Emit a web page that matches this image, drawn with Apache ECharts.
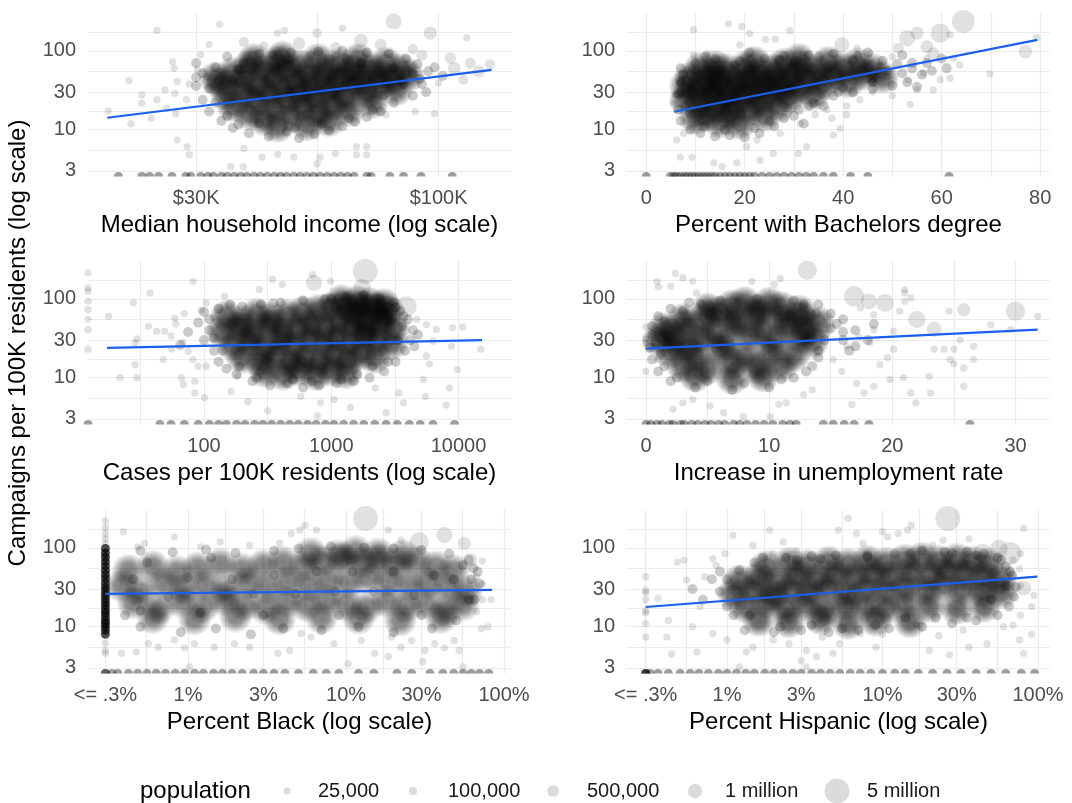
<!DOCTYPE html>
<html>
<head>
<meta charset="utf-8">
<script src="https://cdn.jsdelivr.net/npm/echarts@6/dist/echarts.min.js"></script>
<style>
  html, body { margin: 0; background: #fff; }
  #main { width: 1072px; height: 803px; }
</style>
</head>
<body>
<div id="main"></div>
<script>
// ---- y axis (campaigns per 100K, log) ----
var yTicks = [3, 10, 30, 100];
var yLabels = ['3', '10', '30', '100'];
var yBreaks = [1, 3, 10, 30, 100, 300];

// ---- panel 1: median household income ($K) ----
var incomeTicks = [30, 100];
var incomeLabels = ['$30K', '$100K'];
var incomeBreaks = [10, 30, 100, 300];
var incCore = [[34,38],[35,28],[36,52],[36,20],[38,44],[38,31],[39,64],[39,16],[40,24],[41,36],[42,56],[42,13.5],[43,28],[44,46],[44,19],[45,72],[46,34],[47,24],[47,58],[48,15],[49,40],[50,29],[50,66],[51,20],[52,50],[53,35],[54,25],[55,78],[55,16],[56,44],[57,58],[58,30],[59,21],[60,38],[61,68],[62,48],[63,26],[64,17.5],[65,56],[66,36],[67,78],[68,44],[70,30],[71,60],[72,22],[74,50],[75,38],[77,70],[79,44],[81,32],[83,58],[86,48],[46,84],[40,78],[33,45],[58,13],[52,11.5],[45,11]];
var incMid = [[30,70],[31,52],[30,36],[31,24],[32,17],[34,13],[36,10.5],[39,9],[43,8.2],[47,9.5],[50,7.8],[54,8.8],[58,9.8],[62,11],[66,12.5],[70,14.5],[75,17],[80,22],[88,27],[92,38],[95,55],[90,68],[85,80],[78,92],[70,95],[62,100],[55,98],[48,95],[41,92],[35,85],[33,62],[37,11.7],[63,80],[98,62],[102,48],[32,33],[33,22],[35,15],[37,58],[38,70],[41,12],[44,88],[49,10.5],[53,86],[56,12],[60,84],[64,14],[68,70],[72,18],[76,27],[80,60],[84,38],[88,52],[91,44],[94,30],[36,42],[30,46]];
var incPts = [[19.4,17.3],[21.5,42],[21.7,11.9],[22.9,27.6],[22.9,21.7],[24.7,181],[24.7,24],[25.7,32],[25.9,18.8],[26.7,73],[26.9,60],[27.1,16],[27.3,41],[27.3,7.4],[28.6,24],[28.7,6.1],[29,4.8],[30.2,57],[30.7,89],[31.7,47],[33.7,218],[35.6,3.4],[37.9,3.4],[38,5.8],[41.6,4.5],[44.9,168],[45,4.9],[46.5,181],[48.7,4.5],[54.7,168,200],[54.7,3.7],[55.5,4.5],[59.9,5],[62,194],[66.5,6.1],[66.5,4.8],[70,6.1],[70,4.8],[77,15.5],[80,236,1500],[89,16.9],[96,168,800],[98,16],[100,39],[106,81,500],[113,43,250],[115,147],[117,70,400],[129,68,300],[24,14],[27,29],[29,38],[32,120],[38,130,300],[42,115,200],[50,125,600],[60,110,400],[68,135,900],[75,120,500],[88,105,300],[92,88,400],[108,60,700],[122,55,600]];
var incZero = [20.4,22.9,23.8,24.9,26.6,28.5,29.2,30.7,31.8,32.7,34,35,36.2,37.4,38.6,40,41.3,42.7,44.2,45.6,47,48.7,50.3,52,53.7,55.5,57.5,59.5,61.5,63.6,65.7,70,71.5,78.5,84,91.6,107];
var incFit = [[19.3,14.2],[130,57.3]];

// ---- panel 2: percent with bachelors degree ----
var bachTicks = [0, 20, 40, 60, 80];
var bachLabels = ['0', '20', '40', '60', '80'];
var bachBreaks = [-20, 0, 20, 40, 60, 80, 100];
var bachCore = [[9,45],[10,30],[11,22],[11,60],[12,38],[12,15],[13,27],[13,50],[14,19],[14,34],[15,42],[15,12.5],[16,24],[16,58],[17,31],[17,16],[18,46],[18,21],[19,36],[19,12],[20,27],[20,62],[21,18],[21,44],[22,32],[23,23],[23,52],[24,38],[24,15],[25,28],[26,58],[26,44],[27,34],[27,20],[28,68],[29,40],[29,26],[30,52],[31,33],[32,62],[33,44],[34,28],[35,55],[36,38],[37,72],[38,48],[40,60],[41,40],[43,68],[44,50],[46,58],[48,46],[8,24],[8,36],[10,14],[22,72],[14,64],[31,78]];
var bachMid = [[7,60],[10,70],[14,78],[19,74],[24,80],[28,86],[33,88],[38,92],[43,86],[48,75],[51,68],[54,60],[56,50],[53,40],[50,36],[46,33],[42,30],[38,27],[34,22],[31,18],[28,14],[26,11],[23,9],[20,8],[17,8.5],[14,8.2],[11,9],[9,10],[7,13],[6.5,18],[6.5,28],[7,40],[32,12],[36,20],[40,34],[57,70],[60,80],[52,88],[45,95],[21,95],[12,84],[7,30],[7.5,50],[8,20],[9,16],[10,55],[12,11],[16,10],[18,66],[22,10.5],[25,13],[27,76],[30,15],[33,20],[35,84],[39,30],[42,76],[46,40],[49,56],[52,52],[54,70],[58,56],[61,60],[55,35]];
var bachPts = [[9.6,185],[16.7,220],[19.4,204],[21,167],[29.2,180],[24.2,140],[26.2,140],[19,119],[39.7,119,1200],[53,145,1500],[55,168,800],[59.7,168,2500],[61.7,160],[64.4,236,4000],[79.3,147],[77,98,900],[69.8,51],[62.4,81],[63.7,66],[61.7,45],[58.3,32],[59.7,43],[56.3,52],[55,32],[53.6,21],[53.2,43],[50,27],[48.9,47],[46,30],[46,43],[43.4,24],[40.7,20],[40.7,15.5],[39.4,10.4],[38,8.6],[37.7,14],[36.7,18],[34.6,21.7],[34.3,15.5],[31.3,12],[32.6,6.1],[30.9,5],[27.2,9],[25.8,5],[23.1,4.1],[22.5,7.4],[20.4,6.1],[18.4,3.8],[15.4,3.4],[13.7,3.8],[9.3,4.5],[6.9,4.5],[6.2,7.4],[7.6,9],[5.5,21.7],[5.9,27.6],[6.9,38.9],[8.3,57],[9.6,89],[12.3,93],[47.5,66],[50,84],[45.5,93],[42.8,108],[51.2,108,400],[57,81],[58.3,93,600],[57,113,700]];
var bachZero = [0,4.9,5.6,6.2,7,7.8,8.5,9.3,10,10.8,11.6,12.4,13.2,14,15,16,17,18,19,20,21,22,23.5,25,26.5,28,29.5,31,32.5,34,36,38,41.5,45,61.5];
var bachFit = [[5.7,16.9],[79.4,138]];

// ---- panel 3: cases per 100K ----
var caseTicks = [100, 1000, 10000];
var caseLabels = ['100', '1000', '10000'];
var caseBreaks = [10, 100, 1000, 10000, 100000];
var caseCore = [[150,60],[200,52],[260,64],[340,56],[450,62],[600,68],[800,72],[1000,76],[1300,80],[1700,78],[2200,74],[2800,70],[140,38],[190,43],[250,35],[320,45],[420,37],[550,42],[700,47],[900,43],[1150,50],[1450,46],[1850,52],[2400,47],[3100,42],[170,26],[230,29],[300,23],[400,30],[520,25],[680,31],[870,27],[1100,32],[1400,28],[1800,33],[2300,29],[3000,27],[200,18],[280,16],[370,19.5],[480,15.5],[620,18],[800,16],[1050,19.5],[1350,17],[1700,20],[2200,18],[300,12],[420,11],[560,12.5],[750,11],[1000,12.5],[1300,11.5],[1200,95],[1600,92],[2000,88],[2600,85],[1500,62],[1900,40],[2600,58]];
var caseMid = [[90,50],[110,40],[100,30],[120,22],[130,16],[150,13],[180,11],[240,9],[330,8],[450,8.5],[600,7.5],[800,8],[1100,8.5],[1500,9],[2000,10],[2600,12],[3200,16],[3800,22],[4200,30],[4400,40],[4000,55],[3500,70],[3100,90],[2400,100],[1800,110],[1300,105],[900,100],[600,95],[400,90],[280,85],[200,80],[130,75],[100,68],[75,38],[65,26],[110,55],[120,32],[140,22],[160,85],[190,14],[260,10],[350,88],[500,9.5],[700,9],[1000,100],[1200,9.5],[1600,11],[2100,14],[2800,16],[3300,30],[3600,45],[3700,60],[3200,78],[4500,25],[4800,35]];
var casePts = [[0,214],[0,138],[0,125],[0,93],[0,73],[0,55],[0,41],[0,23],[17.8,60],[21.9,10],[28.7,27.7],[29.6,31],[28.7,14.6],[29.6,10],[27.8,89],[37.6,119],[36.5,45],[42.4,39],[49,39],[47.8,17],[55.5,23],[58.9,57],[66.5,10],[69,8.2],[82,167],[75,21.6],[82,17],[84.6,9],[89.8,14],[84.6,6.4],[101,5.6],[104,14],[104,89],[145,108],[163,6.7],[184,10.5],[221,5],[272,131],[316,3.8],[345,176],[412,152],[712,203],[731,160,1500],[990,167],[1850,224,5000],[1750,138,2000],[2400,98,1500],[3900,80,3000],[4700,55],[5600,47],[6700,41],[9000,43],[6300,29],[5600,19],[5900,15],[5300,9.5],[5500,5.8],[8000,4.5],[8500,7.4],[9800,12.7],[10800,44],[8800,25],[15000,23],[3700,4.8],[3400,6.4],[2700,3.6],[2220,7.4],[1050,5.3],[825,4.8],[1416,4.2],[576,5.8],[777,3.3],[60,48],[70,65],[95,72],[120,58],[55,34],[68,28]];
var caseZero = [0,45,55,70,90,110,130,150,180,210,250,290,340,400,470,550,650,760,900,1050,1250,1500,1800,2200,2700,3300,4100,5000,6300,9300];
var caseFit = [[17.3,23.9],[15300,29.9]];

// ---- panel 4: increase in unemployment rate ----
var unempTicks = [0, 10, 20, 30];
var unempLabels = ['0', '10', '20', '30'];
var unempBreaks = [-10, 0, 10, 20, 30, 40];
var unempCore = [[5,75],[7,82],[9,72],[11,78],[12.5,70],[3,55],[5,60],[7,52],[9,62],[11,55],[12.6,58],[1.5,42],[3.5,45],[5.5,38],[7.5,46],[9.5,40],[11.5,45],[13,40],[1,30],[2.5,28],[4.5,33],[6.5,27],[8.5,34],[10.5,29],[12.5,32],[2,21],[4,19],[6,23],[8,18.5],[10,21],[12,19],[3,14],[5,13],[7,15],[9,13.5],[11,14],[4,10.5],[7,9.8],[9.5,10.5],[6,68],[8,90],[10,88],[2,36],[3.5,24],[14,50],[13.5,28]];
var unempMid = [[1,60],[2,75],[3.5,90],[6,95],[9,100],[12,95],[14,85],[15,65],[15.5,48],[14.5,35],[16,30],[14,22],[13.5,14],[12,10],[10,7.5],[7,7],[4,7.5],[2,9],[1,12],[0.5,17],[0.3,24],[0.5,35],[17,40],[16,55],[18,30],[16.5,22],[0.5,45],[0.8,28],[1.2,20],[1.5,14],[2.5,10],[3,70],[5,9],[8,8.5],[11,9.5],[13,12],[14,18],[14.5,30],[15,42],[13.8,65],[12.8,85],[4.5,85],[1.5,52],[16,38],[17,25],[18.5,48]];
var unempPts = [[2.4,210],[3,185],[0.9,167],[1,142],[3.8,167],[4.1,119],[2,145],[8.6,167],[10.4,152],[10.9,180],[13.1,231,2500],[16.9,108,3000],[18.1,93,1500],[19.4,89,2000],[21,119],[21,93],[22,55,1800],[23.4,41,1200],[24.6,70],[25.8,73,800],[28,47],[30,70,2500],[31.8,60],[29.6,41],[23.4,23],[24.2,23],[25,23],[25.5,30],[26.6,25],[26.6,17],[25,15],[24.7,17],[25.8,13.3],[25.8,7.8],[23,10.4],[23.1,6.4],[21.5,6.4],[21.9,4.8],[20.9,10],[19.8,9.5],[19,14.6],[18.5,7.8],[17.7,6.4],[16.7,4.6],[17.1,8.5],[15.9,12],[15.2,17],[16.3,25],[17.3,33],[18.2,28],[18.5,41],[20.1,39],[20.1,23],[19.6,18],[18.5,63],[17.4,77],[20.6,70],[21.5,103],[21,131],[2.2,4],[3,4.8],[3.8,5.3],[5.2,4.4],[6.3,3.6],[7.9,3.2],[10.1,3.2],[11.4,4.8],[10.8,4.6],[12.8,6.1],[13.5,7],[0,44],[0,31],[0,27.6],[0,12],[0.6,25],[1,17]];
var unempZero = [0,0.4,0.9,1.3,1.9,2.2,2.8,3.1,3.7,4.2,4.8,5.3,5.9,6.4,7.1,7.6,8.2,8.9,9.6,10.3,11.1,11.7,12.2,14.4,15.2,16.1,16.9,18.1,26.3];
var unempFit = [[0,23.4],[31.8,40.8]];

// ---- panels 5 & 6: percent black / hispanic (log, "<= .3%" floor) ----
var pctTicks = [0.3, 1, 3, 10, 30, 100];
var pctLabels = ['<= .3%', '1%', '3%', '10%', '30%', '100%'];
var pctBreaks = [0.1, 0.3, 1, 3, 10, 30, 100, 300];

var blackCol = [98,86,76,67,59,52,46,41,36,32,28.5,25.5,23,20.5,18.5,16.5,15,13.5,12,11,10,9,8];
var blackCore = [[0.42,52],[0.6,58],[0.85,50],[1.15,56],[1.6,62],[2.2,54],[3,60],[4,66],[5.4,58],[7,68],[9.5,72],[12.5,65],[16,70],[21,62],[28,66],[37,58],[48,52],[0.38,33],[0.5,28],[0.7,35],[0.95,30],[1.3,34],[1.75,29],[2.4,36],[3.2,31],[4.3,38],[5.8,33],[7.7,40],[10.3,36],[13.8,42],[18.5,38],[25,34],[33,36],[44,31],[58,28],[0.45,20],[0.65,17],[0.9,21],[1.25,18],[1.7,22],[2.3,19],[3.1,17],[4.2,21],[5.6,18.5],[7.5,22],[10,19],[13.5,17.5],[18,21],[24,18],[32,20],[43,16],[55,19],[0.6,13],[1.1,12.5],[2,13.5],[3.8,12.5],[7,13],[12,12.8],[22,12],[40,13],[6,85],[9,80],[11.5,90],[16,84],[23,80]];
var blackMid = [[0.5,92],[0.8,88],[1.3,95],[2,86],[3.5,92],[5,98],[8,105],[13,100],[20,98],[30,94],[45,85],[60,70],[68,50],[70,35],[65,22],[50,12],[35,9.5],[20,8.5],[12,10],[7,9],[4,9.5],[2.5,8],[1.5,9.5],[0.9,8.5],[0.5,10],[0.4,14],[62,40],[55,60],[0.45,40],[0.55,65],[0.75,24],[1,42],[1.4,75],[1.9,40],[2.6,26],[3.5,45],[4.8,26],[6.5,50],[8.5,28],[11,50],[15,28],[20,50],[27,25],[36,45],[48,40],[60,22],[64,55],[3,14],[9,14],[30,14],[1.2,15],[0.5,16]];
var blackPts = [[0.3,220],[0.3,180],[0.3,150],[0.3,130],[0.3,112],[0.3,6.2],[0.3,5],[0.3,4.6],[0.39,160],[0.53,114],[0.48,103],[0.82,138],[1.2,103],[1.6,119],[2.45,108],[3.8,114],[4.5,152],[5.5,194],[5.1,168],[6.5,168],[13.3,236,5000],[18.5,168],[22.3,125],[29,119,2500],[42,145,1500],[56,114,800],[61,70,1000],[73,68],[67,43],[83,22],[73,22],[79,10],[72,9.5],[67,15.5],[73,35],[0.38,4.6],[0.47,4.8],[0.56,6.1],[0.65,5.5],[0.82,6.8],[0.95,5.4],[1.02,3.1],[1.1,6.1],[1.47,5.5],[1.97,6.1],[2.45,5.5],[3.7,4.6],[4.4,5],[5.2,8.2],[6,7.4],[8.4,6.1],[10.3,3.4],[12.5,6.7],[15.2,4.6],[18.5,4.2],[19.4,7.4],[22.3,5.5],[26,6.7],[30.6,3.6],[31.5,5],[36.4,6.1],[42,5.4],[48.5,6.7],[52,5],[55,3.1]];
var blackZero = [0.3,0.3,0.33,0.36,0.42,0.48,0.55,0.63,0.72,0.83,0.95,1.1,1.25,1.45,1.65,1.9,2.2,2.6,3,3.5,4.1,5,6.2,7.5,9,12,15,21,26,34,41,48,55,62,70,80];
var blackFit = [[0.3,26.1],[84,29.3]];

var hispCol = [43,29,27,22,16,15,11,7.4];
var hispCore = [[1.8,58],[2.5,64],[3.3,60],[4.5,66],[6,62],[8,68],[10.5,64],[14,70],[18,74],[23,68],[30,72],[38,66],[48,62],[1.2,38],[1.6,42],[2.1,36],[2.8,44],[3.7,39],[4.9,45],[6.5,41],[8.5,47],[11,43],[15,48],[20,44],[26,50],[34,46],[45,42],[58,40],[1.1,26],[1.5,29],[2,25],[2.6,30],[3.4,27],[4.5,31],[6,26],[8,30],[10.5,28],[14,32],[19,29],[25,33],[33,30],[44,28],[58,27],[1.3,18],[1.8,20],[2.4,17],[3.2,19],[4.3,16.5],[5.8,19],[7.8,18],[10.5,17],[14,19.5],[20,18],[30,17],[45,18],[1.6,12],[2.5,11.5],[4,12.5],[6,11],[9,12],[15,11.5]];
var hispMid = [[0.6,30],[0.7,22],[0.8,40],[0.9,50],[1,18],[1.1,14],[1.3,9],[2,8.5],[3,9],[4.5,8.5],[7,9],[11,9.5],[18,10],[28,11],[40,12],[55,14],[65,18],[70,24],[72,32],[68,45],[62,58],[55,75],[45,85],[35,90],[25,88],[18,92],[12,85],[8,80],[5,80],[3.5,78],[2.4,75],[1.5,65],[0.9,28],[1,40],[1.2,52],[1.4,14],[1.7,75],[2.2,10],[3.5,10.5],[5.5,9.5],[9,10.5],[14,13],[22,13],[35,13],[50,22],[62,33],[66,50],[58,70],[40,80],[28,85],[15,84],[8,76],[4,72],[2.8,70]];
var hispPts = [[0.36,23],[0.42,12],[0.44,4.5],[0.41,7.4],[0.48,66],[0.53,70],[0.55,39],[0.64,4.8],[0.6,10],[0.67,18],[0.72,43],[0.81,73],[0.85,60],[0.97,85],[1.09,145],[1.47,108],[1.88,168],[1.98,85],[2.3,119],[2.8,92],[3,3.7],[3.76,4.2],[3.24,3.1],[4.8,4.6],[5.2,168],[6,236],[6.8,152],[7.5,114],[9.1,5.5],[10,160],[10.8,138],[12.6,152],[14.5,168],[15.3,194],[21,108],[26.3,236,5000],[24.5,125],[36,130],[44,85,2500],[56,98,2000],[66,85,4000],[69,70],[77,85],[81,176],[76,54],[77,33],[81,31,1200],[94,25],[91,18],[77,14],[91,8],[81,4.6],[76,6.8],[69,10.5],[60,10],[47,6.1],[36,5.5],[33,9],[27,4.4],[23,7.7],[20,5],[16.5,10.5],[12.9,12.5],[10,8],[7.2,8.2],[5.3,6.1],[4.1,7.4],[3.24,5],[2.5,6.1],[1.98,6.8],[1.47,5.5],[1.2,3.1],[1.33,4.8],[1,6.8],[0.81,8.2]];
var hispZero = [0.3,0.3,0.3,0.32,0.36,0.42,0.5,0.58,0.66,0.76,0.88,1,1.15,1.32,1.5,1.75,2,2.3,2.65,3,3.5,4,4.6,5.3,6.2,7.2,8.4,10,12,14,17,21,26,32,40,50,62,78,95];
var hispFit = [[0.3,17.8],[99,43.3]];

var legendPops = [25, 100, 500, 1000, 5000]; // thousands
var legendLabels = ['25,000', '100,000', '500,000', '1 million', '5 million'];

// ---------------------------------------------------------------
var L = Math.log10;
var FONT = '"Liberation Sans", Arial, Helvetica, sans-serif';
var Y_MIN = 0.407, Y_MAX = 2.48;
var BLUE = '#1a5ff0';

// point diameter from population (thousands), like scale_size
function sz(p) { return 5.6 + 0.274 * Math.sqrt(p || 40); }

// soft disc used for the dense part of each cloud
function softDisc(a) {
  return {
    type: 'radial', x: 0.5, y: 0.5, r: 0.5,
    colorStops: [
      { offset: 0, color: 'rgba(0,0,0,' + a + ')' },
      { offset: 0.45, color: 'rgba(0,0,0,' + (a * 0.85) + ')' },
      { offset: 1, color: 'rgba(0,0,0,0)' }
    ]
  };
}

var panels = [
  { title: 'Median household income (log scale)', log: true, min: 1.244, max: 2.156,
    ticks: incomeTicks, labels: incomeLabels, breaks: incomeBreaks, coreAlpha: 0.8,
    core: incCore, mid: incMid, pts: incPts, zeros: incZero, fit: incFit },
  { title: 'Percent with Bachelors degree', log: false, min: -3.9, max: 82,
    ticks: bachTicks, labels: bachLabels, breaks: bachBreaks, coreAlpha: 0.8,
    core: bachCore, mid: bachMid, pts: bachPts, zeros: bachZero, fit: bachFit },
  { title: 'Cases per 100K residents (log scale)', log: true, min: 1.088, max: 4.4126,
    ticks: caseTicks, labels: caseLabels, breaks: caseBreaks, coreAlpha: 0.8,
    core: caseCore, mid: caseMid, pts: casePts, zeros: caseZero, fit: caseFit },
  { title: 'Increase in unemployment rate', log: false, min: -1.54, max: 32.8,
    ticks: unempTicks, labels: unempLabels, breaks: unempBreaks, coreAlpha: 0.8,
    core: unempCore, mid: unempMid, pts: unempPts, zeros: unempZero, fit: unempFit },
  { title: 'Percent Black (log scale)', log: true, min: -0.633, max: 2.044,
    ticks: pctTicks, labels: pctLabels, breaks: pctBreaks, coreAlpha: 0.64,
    core: blackCore, mid: blackMid, pts: blackPts, zeros: blackZero, fit: blackFit,
    col: blackCol, colDark: true },
  { title: 'Percent Hispanic (log scale)', log: true, min: -0.643, max: 2.077,
    ticks: pctTicks, labels: pctLabels, breaks: pctBreaks, coreAlpha: 0.78,
    core: hispCore, mid: hispMid, pts: hispPts, zeros: hispZero, fit: hispFit,
    col: hispCol, colDark: false }
];

var colLeft = [88, 627];
var rowTop = [13, 261, 510];

function axisParts(ticks, labels, breaks, log, min, max) {
  var f = log ? L : function (v) { return v; };
  var major = ticks.map(f);
  var minor = [];
  for (var i = 0; i < breaks.length - 1; i++) {
    var m = (f(breaks[i]) + f(breaks[i + 1])) / 2;
    if (m > min && m < max) minor.push(m);
  }
  var names = {};
  major.forEach(function (v, i) { names[v.toFixed(5)] = labels[i]; });
  return {
    major: major,
    all: major.concat(minor),
    fmt: function (v) { return names[Number(v).toFixed(5)] || ''; }
  };
}

var grids = [], xAxes = [], yAxes = [], series = [];
var yp = axisParts(yTicks, yLabels, yBreaks, true, Y_MIN, Y_MAX);

panels.forEach(function (p, i) {
  grids.push({ left: colLeft[i % 2], top: rowTop[Math.floor(i / 2)], width: 423, height: 163.5,
    containLabel: false, outerBoundsMode: 'none' });
  var xp = axisParts(p.ticks, p.labels, p.breaks, p.log, p.min, p.max);
  xAxes.push({
    type: 'value', gridIndex: i, min: p.min, max: p.max,
    name: p.title, nameLocation: 'middle', nameGap: 37,
    nameTextStyle: { fontSize: 24, color: '#000', fontFamily: FONT },
    axisLine: { show: false },
    axisTick: { show: false, customValues: xp.all },
    axisLabel: { customValues: xp.major, formatter: xp.fmt, margin: 12,
      fontSize: 20, color: '#4d4d4d', fontFamily: FONT },
    splitLine: { show: true, lineStyle: { color: '#ebebeb', width: 1.2 } }
  });
  yAxes.push({
    type: 'value', gridIndex: i, min: Y_MIN, max: Y_MAX,
    axisLine: { show: false },
    axisTick: { show: false, customValues: yp.all },
    axisLabel: { customValues: yp.major, formatter: yp.fmt, margin: 12,
      fontSize: 20, color: '#4d4d4d', fontFamily: FONT },
    splitLine: { show: true, lineStyle: { color: '#ebebeb', width: 1.2 } }
  });

  function tx(v) { return p.log ? (v > 0 ? L(v) : p.min + 0.0001) : v; }
  function ty(v) { return v > 0 ? L(v) : Y_MIN + 0.0001; }
  var base = { type: 'scatter', xAxisIndex: i, yAxisIndex: i, silent: true, animation: false };

  // counties with zero campaigns sit on the bottom edge, half cut off
  series.push(Object.assign({}, base, {
    data: p.zeros.map(function (x) { return [tx(x), Y_MIN + 0.0001]; }),
    symbol: 'path://M0 10A10 10 0 0 1 20 10Z', symbolKeepAspect: false,
    symbolSize: [9, 4.5], symbolOffset: [0, -2.25],
    itemStyle: { color: 'rgba(0,0,0,0.48)' }
  }));

  // dense cloud
  series.push(Object.assign({}, base, {
    data: p.core.map(function (d) { return [tx(d[0]), ty(d[1])]; }),
    symbolSize: 34,
    itemStyle: { color: softDisc(p.coreAlpha) }
  }));
  // fringe of the cloud
  series.push(Object.assign({}, base, {
    data: p.mid.map(function (d) { return [tx(d[0]), ty(d[1])]; }),
    symbolSize: 10,
    itemStyle: { color: 'rgba(0,0,0,0.26)' }
  }));
  // single counties
  var pts = p.pts.map(function (d) { return [tx(d[0]), ty(d[1]), d[2] || 40]; });
  if (p.col && !p.colDark) {
    p.col.forEach(function (y) { pts.push([tx(0.3), ty(y), 40]); });
  }
  series.push(Object.assign({}, base, {
    data: pts,
    symbolSize: function (v) { return sz(v[2]); },
    itemStyle: { color: 'rgba(0,0,0,0.15)' }
  }));
  if (p.col && p.colDark) {
    series.push(Object.assign({}, base, {
      data: p.col.map(function (y) { return [tx(0.3), ty(y)]; }),
      symbolSize: 9,
      itemStyle: { color: 'rgba(0,0,0,0.85)' }
    }));
  }
  series.push({
    type: 'line', xAxisIndex: i, yAxisIndex: i, silent: true, animation: false,
    data: p.fit.map(function (d) { return [tx(d[0]), ty(d[1])]; }),
    showSymbol: false, symbol: 'none', z: 5,
    lineStyle: { color: BLUE, width: 2.2 }
  });
});

// legend for point size
var legendX = [287, 413, 553, 695, 837];
var legendTextX = [318, 448, 587, 725, 867];
var graphics = [
  { type: 'text', x: 18, y: 343, rotation: Math.PI / 2,
    style: { text: 'Campaigns per 100K residents (log scale)', fontSize: 24, fill: '#000',
      fontFamily: FONT, textAlign: 'center', textVerticalAlign: 'middle' } },
  { type: 'text', x: 140, y: 791,
    style: { text: 'population', fontSize: 24, fill: '#000', fontFamily: FONT,
      textAlign: 'left', textVerticalAlign: 'middle' } }
];
legendPops.forEach(function (pop, i) {
  graphics.push({ type: 'circle', shape: { cx: legendX[i], cy: 791, r: sz(pop) / 2 },
    style: { fill: 'rgba(0,0,0,0.14)' } });
  graphics.push({ type: 'text', x: legendTextX[i], y: 791,
    style: { text: legendLabels[i], fontSize: 20, fill: '#1a1a1a', fontFamily: FONT,
      textAlign: 'left', textVerticalAlign: 'middle' } });
});

var chart = echarts.init(document.getElementById('main'));
chart.setOption({
  animation: false,
  backgroundColor: '#fff',
  textStyle: { fontFamily: FONT },
  grid: grids,
  xAxis: xAxes,
  yAxis: yAxes,
  series: series,
  graphic: graphics
});
</script>
</body>
</html>
